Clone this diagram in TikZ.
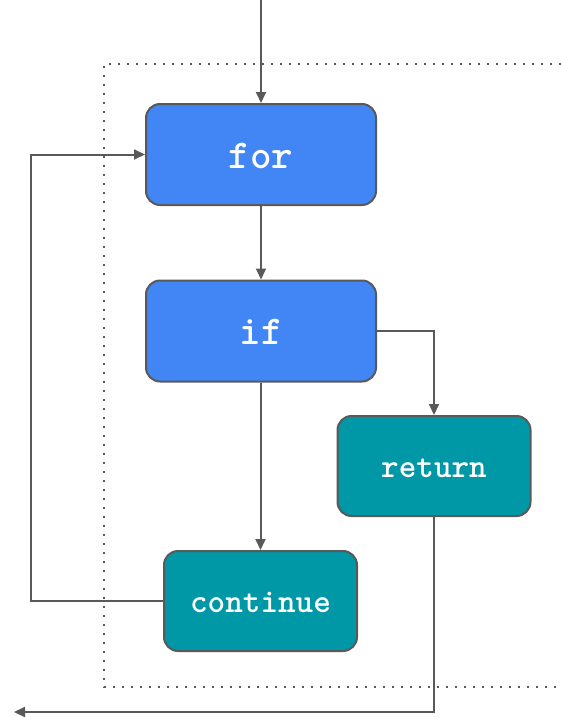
\documentclass[tikz,border=0pt]{standalone}
\usepackage{fontspec}
\usetikzlibrary{arrows.meta}
\definecolor{blueBox}{HTML}{4285F4}
\definecolor{tealBox}{HTML}{0097A7}
\definecolor{edgeGray}{HTML}{595959}
\tikzset{
  box/.style={draw=edgeGray, line width=2pt, rounded corners=14pt,
    minimum width=230pt, minimum height=101pt, text=white,
    text height=31pt, text depth=4pt,
    font=\ttfamily\bfseries\fontsize{41}{41}\selectfont},
  bluebox/.style={box, fill=blueBox},
  tealbox/.style={box, fill=tealBox, minimum width=193pt, minimum height=100pt,
    text height=25.5pt, text depth=3.3pt,
    font=\ttfamily\bfseries\fontsize{33.5}{33.5}\selectfont},
  flow/.style={draw=edgeGray, line width=2pt,
    -{Triangle[length=11pt,width=10pt]}},
}
\begin{document}
\begin{tikzpicture}[x=1pt,y=-1pt]
\useasboundingbox (0,0) rectangle (561,717);
% scope frame of the loop body
\draw[edgeGray, line width=2pt, dash pattern=on 2pt off 7pt]
  (570,64) -- (104,64) -- (104,687) -- (570,687);
% nodes
\node[bluebox] (for) at (261,154.5) {for};
\node[bluebox] (if) at (261,331) {if};
\node[tealbox] (ret) at (434,466) {return};
\node[tealbox] (cont) at (260.5,601) {continue};
\coordinate (entry) at (261,0);
\coordinate (exit) at (14,712);
% connectors
\draw[flow] (entry) -- (for.north);
\draw[flow] (for.south) -- (if.north);
\draw[flow] (if.east) -| (ret.north);
\draw[flow] (if.south -| cont.north) -- (cont.north);
\draw[flow] (cont.west) -- ++(-132,0) |- (for.west);
\draw[flow] (ret.south) |- (exit);
\end{tikzpicture}
\end{document}
